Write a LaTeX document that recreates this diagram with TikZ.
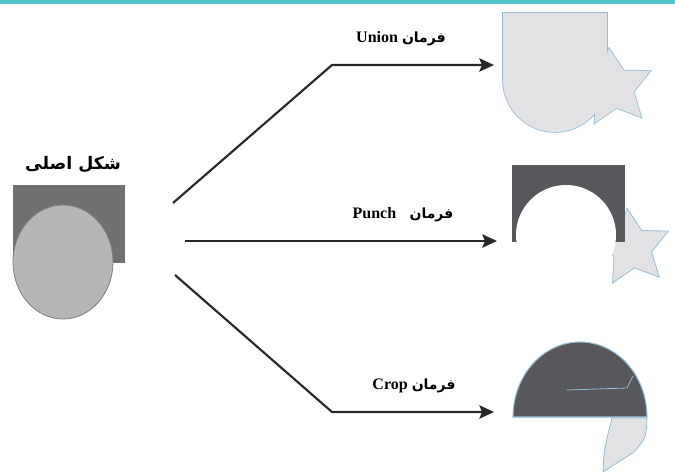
\documentclass[tikz,border=0pt]{standalone}
\usepackage{fontspec}
\setmainfont{Liberation Serif}
\newfontfamily\arabicfont[Script=Arabic]{DejaVu Sans}
\TeXXeTstate=1
\usetikzlibrary{shapes.geometric, arrows.meta, positioning}

\definecolor{barteal}{RGB}{84,196,204}
\definecolor{rectgray}{RGB}{112,112,112}
\definecolor{circgray}{RGB}{182,182,182}
\definecolor{lightfill}{RGB}{226,226,228}
\definecolor{edgeblue}{RGB}{150,190,215}
\definecolor{darkfill}{RGB}{88,88,92}
\definecolor{linegray}{RGB}{40,40,40}

\tikzset{
  cmd/.style={->, line width=1.6pt, draw=linegray},
  cmdlabel/.style={inner sep=0pt, font=\fontsize{12}{14}\selectfont\bfseries},
  starshape/.style={star, star points=5, star point ratio=2.0, minimum size=60pt, inner sep=0pt, rotate=7}
}

\begin{document}
\begin{tikzpicture}[x=0.75pt, y=-0.75pt, >={Stealth[length=11pt, width=10pt, inset=2pt]}]
  \useasboundingbox (0,0) rectangle (675,474);
  \fill[barteal] (0,0) rectangle (675,4.5);

  % original shape
  \node[inner sep=0pt, font=\fontsize{13}{15}\selectfont\bfseries] (orig) at (73,165) {\arabicfont\beginR شکل اصلی\endR};
  \fill[rectgray] (13,185) rectangle (125,263);
  \filldraw[fill=circgray, draw=gray, line width=0.6pt] (63,262) ellipse[x radius=50, y radius=57];

  % Union path
  \coordinate (u0) at (173,203);
  \coordinate (u1) at (332,65);
  \coordinate (u2) at (494,65);
  \draw[cmd] (u0) -- (u1) -- (u2);
  \node[cmdlabel] (lunion) at (401,39) {Union\ {\arabicfont\fontsize{10.5}{12}\selectfont\beginR فرمان\endR}};

  \draw[edgeblue, line width=1.2pt] (503,13) rectangle (607,80);
  \draw[edgeblue, line width=1.2pt] (555,80) circle[radius=52];
  \node[starshape, draw=edgeblue, line width=1.2pt] (ustar) at (614,88) {};
  \fill[lightfill] (503,13) rectangle (607,80);
  \fill[lightfill] (555,80) circle[radius=52];
  \node[starshape, fill=lightfill] (ustarfill) at (614,88) {};

  % Punch path
  \coordinate (p0) at (185,241);
  \coordinate (p2) at (497,241);
  \draw[cmd] (p0) -- (p2);
  \node[cmdlabel] (lpunch) at (403,215) {Punch\hspace{10pt}{\arabicfont\fontsize{10.5}{12}\selectfont\beginR فرمان\endR}};

  \node[starshape, fill=lightfill, draw=edgeblue, line width=0.6pt] (pstar) at (632,248) {};
  \fill[darkfill] (512,165) rectangle (625,242);
  \fill[white] (566,235) circle[radius=50];

  % Crop path
  \coordinate (c0) at (175,275);
  \coordinate (c1) at (332,412);
  \coordinate (c2) at (494,412);
  \draw[cmd] (c0) -- (c1) -- (c2);
  \node[cmdlabel] (lcrop) at (414,386) {Crop\ {\arabicfont\fontsize{10.5}{12}\selectfont\beginR فرمان\endR}};

  \filldraw[fill=darkfill, draw=edgeblue, line width=0.8pt] (513,417) arc[start angle=180, end angle=360, x radius=67, y radius=75] -- cycle;
  \draw[edgeblue, line width=0.6pt] (567,390) -- (627,388) -- (633,376);
  \filldraw[fill=lightfill, draw=edgeblue, line width=0.6pt] (612,418) -- (647,418) .. controls (646,438) .. (634,452) -- (603,472) .. controls (604,450) .. (612,418) -- cycle;
\end{tikzpicture}
\end{document}
